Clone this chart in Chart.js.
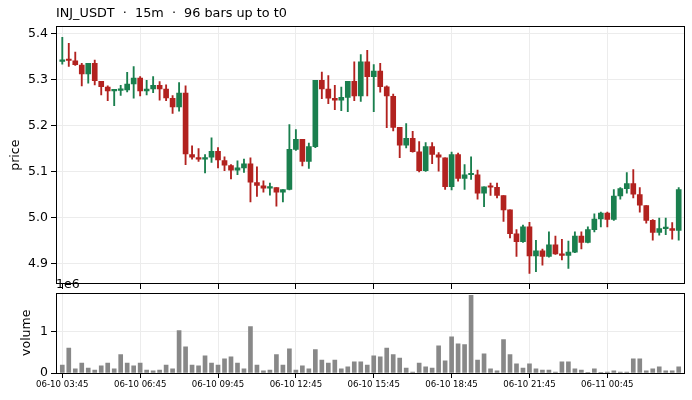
<!DOCTYPE html>
<html>
<head>
<meta charset="utf-8">
<script src="https://cdn.jsdelivr.net/npm/chart.js@4/dist/chart.umd.min.js"></script>
<style>
  html, body { margin: 0; padding: 0; background: #fff; }
  #wrap { position: relative; width: 692px; height: 400px; }
  canvas { position: absolute; left: 0; }
  #priceChart { top: 0; }
  #volumeChart { top: 270px; }
</style>
</head>
<body>
<div id="wrap">
  <canvas id="priceChart" width="692" height="290"></canvas>
  <canvas id="volumeChart" width="692" height="130"></canvas>
</div>
<script>
// 15m bars, index 0 = 06-10 03:45
const opens = [5.339, 5.342, 5.340, 5.331, 5.312, 5.335, 5.296, 5.283, 5.275, 5.276,
  5.277, 5.290, 5.303, 5.275, 5.279, 5.287, 5.279, 5.259, 5.240, 5.270,
  5.137, 5.130, 5.127, 5.131, 5.144, 5.124, 5.113, 5.103, 5.108, 5.117,
  5.076, 5.069, 5.064, 5.065, 5.055, 5.061, 5.148, 5.170, 5.122, 5.154,
  5.298, 5.279, 5.259, 5.255, 5.261, 5.296, 5.264, 5.338, 5.306, 5.318,
  5.284, 5.263, 5.196, 5.157, 5.172, 5.143, 5.102, 5.154, 5.136, 5.130,
  5.067, 5.137, 5.085, 5.093, 5.093, 5.053, 5.067, 5.066, 5.048, 5.017,
  4.965, 4.948, 4.980, 4.917, 4.928, 4.916, 4.941, 4.921, 4.918, 4.925,
  4.960, 4.946, 4.974, 4.997, 5.010, 4.996, 5.047, 5.063, 5.074, 5.050,
  5.026, 4.994, 4.968, 4.976, 4.976, 4.972];
const highs = [5.391, 5.378, 5.359, 5.335, 5.335, 5.342, 5.296, 5.286, 5.276, 5.287,
  5.315, 5.328, 5.306, 5.298, 5.306, 5.295, 5.288, 5.265, 5.293, 5.286,
  5.156, 5.150, 5.137, 5.173, 5.152, 5.132, 5.115, 5.123, 5.127, 5.130,
  5.110, 5.080, 5.075, 5.065, 5.061, 5.202, 5.191, 5.170, 5.162, 5.298,
  5.316, 5.308, 5.287, 5.283, 5.296, 5.338, 5.354, 5.363, 5.332, 5.335,
  5.286, 5.268, 5.196, 5.204, 5.187, 5.165, 5.163, 5.163, 5.141, 5.130,
  5.142, 5.140, 5.115, 5.132, 5.103, 5.067, 5.075, 5.075, 5.048, 5.017,
  4.974, 4.984, 4.990, 4.951, 4.932, 4.969, 4.960, 4.953, 4.949, 4.969,
  4.969, 4.980, 5.008, 5.012, 5.012, 5.061, 5.065, 5.098, 5.104, 5.065,
  5.026, 4.996, 4.999, 4.999, 4.989, 5.065];
const lows = [5.333, 5.328, 5.330, 5.286, 5.292, 5.288, 5.266, 5.254, 5.243, 5.265,
  5.273, 5.259, 5.264, 5.266, 5.271, 5.255, 5.254, 5.226, 5.231, 5.115,
  5.127, 5.122, 5.097, 5.120, 5.108, 5.102, 5.084, 5.093, 5.098, 5.034,
  5.046, 5.055, 5.049, 5.025, 5.034, 5.060, 5.146, 5.112, 5.107, 5.152,
  5.258, 5.247, 5.234, 5.232, 5.230, 5.254, 5.252, 5.264, 5.230, 5.272,
  5.195, 5.188, 5.130, 5.151, 5.142, 5.099, 5.100, 5.117, 5.101, 5.061,
  5.060, 5.079, 5.061, 5.083, 5.040, 5.024, 5.048, 5.043, 4.992, 4.956,
  4.916, 4.946, 4.879, 4.883, 4.897, 4.914, 4.920, 4.908, 4.890, 4.924,
  4.932, 4.945, 4.969, 4.980, 4.980, 4.994, 5.040, 5.053, 5.043, 5.012,
  4.988, 4.951, 4.962, 4.963, 4.953, 4.951];
const closes = [5.341, 5.341, 5.332, 5.312, 5.335, 5.297, 5.284, 5.275, 5.276, 5.277,
  5.290, 5.303, 5.275, 5.279, 5.287, 5.279, 5.260, 5.240, 5.270, 5.138,
  5.131, 5.127, 5.130, 5.144, 5.125, 5.114, 5.103, 5.108, 5.117, 5.077,
  5.070, 5.064, 5.066, 5.055, 5.061, 5.148, 5.170, 5.122, 5.154, 5.298,
  5.279, 5.259, 5.255, 5.261, 5.296, 5.264, 5.338, 5.306, 5.318, 5.284,
  5.264, 5.196, 5.157, 5.172, 5.143, 5.102, 5.154, 5.137, 5.131, 5.067,
  5.137, 5.085, 5.093, 5.094, 5.053, 5.067, 5.066, 5.048, 5.017, 4.965,
  4.948, 4.980, 4.917, 4.928, 4.916, 4.941, 4.921, 4.918, 4.925, 4.960,
  4.946, 4.974, 4.997, 5.010, 4.996, 5.047, 5.063, 5.074, 5.051, 5.027,
  4.994, 4.968, 4.976, 4.977, 4.972, 5.061];
const volumes = [190000, 600000, 100000, 240000, 120000, 70000, 170000, 240000, 100000, 440000,
  240000, 170000, 240000, 70000, 50000, 70000, 190000, 100000, 1020000, 630000,
  190000, 170000, 410000, 240000, 190000, 340000, 390000, 240000, 100000, 1110000,
  190000, 50000, 70000, 440000, 190000, 580000, 70000, 170000, 100000, 560000,
  310000, 240000, 310000, 100000, 150000, 270000, 270000, 190000, 410000, 390000,
  600000, 440000, 360000, 120000, 20000, 240000, 150000, 120000, 650000, 290000,
  870000, 700000, 680000, 1860000, 310000, 460000, 100000, 50000, 800000, 440000,
  220000, 120000, 220000, 100000, 70000, 70000, 20000, 270000, 270000, 100000,
  70000, 5000, 100000, 5000, 20000, 50000, 20000, 20000, 340000, 340000,
  50000, 100000, 150000, 50000, 50000, 150000];
// one label every 12 bars (3 hours)
const tickLabels = ["06-10 03:45", "06-10 06:45", "06-10 09:45", "06-10 12:45",
  "06-10 15:45", "06-10 18:45", "06-10 21:45", "06-11 00:45"];

const UP = "#1a7f4e";
const DOWN = "#b2221f";
const FONT = "DejaVu Sans";

const candleColor = (ctx) => {
  const i = ctx.dataIndex;
  return closes[i] >= opens[i] ? UP : DOWN;
};

// fixed range, ticks on exact multiples of stepSize
const stepTicks = (s) => {
  const lo = s.options.min, hi = s.options.max, st = s.options.ticks.stepSize;
  s.min = lo;
  s.max = hi;
  const out = [];
  for (let k = Math.ceil(lo / st - 1e-9); k * st <= hi + 1e-9; k++) {
    out.push({ value: Math.round(k * st * 1e6) / 1e6 });
  }
  s.ticks = out;
};

// fixed y-axis width, no extra room reserved for overhanging labels
const yFit = (s) => {
  s.width = 56;
  s.paddingTop = 0;
  s.paddingBottom = 0;
};

// draws the box around the plot area (matplotlib-like spines)
const frame = {
  id: "frame",
  afterDraw(chart) {
    const a = chart.chartArea;
    const c = chart.ctx;
    c.save();
    c.strokeStyle = "#000";
    c.lineWidth = 1;
    c.strokeRect(Math.round(a.left) + 0.5, Math.round(a.top) + 0.5,
      Math.round(a.right - a.left) - 1, Math.round(a.bottom - a.top) - 1);
    c.restore();
  }
};

const xCommon = {
  type: "linear",
  min: -0.97,
  max: 95.97,
  offset: false,
  border: { display: false },
  grid: { offset: false, color: "#ececec", lineWidth: 1, tickColor: "#000", tickLength: 5 },
  afterBuildTicks: stepTicks
};

new Chart(document.getElementById("priceChart"), {
  type: "bar",
  data: {
    datasets: [
      {
        label: "body",
        data: opens.map((o, i) => ({ x: i, y: [o, closes[i]] })),
        backgroundColor: candleColor,
        barThickness: 5,
        minBarLength: 1.5,
        grouped: false
      },
      {
        label: "wick",
        data: lows.map((l, i) => ({ x: i, y: [l, highs[i]] })),
        backgroundColor: candleColor,
        barThickness: 1.2,
        grouped: false
      }
    ]
  },
  options: {
    responsive: false,
    animation: false,
    layout: { padding: { left: 0, right: 7, top: 0, bottom: 0 } },
    plugins: {
      legend: { display: false },
      tooltip: { enabled: false },
      title: {
        display: true,
        text: "INJ_USDT  \u00b7  15m  \u00b7  96 bars up to t0",
        align: "start",
        fullSize: false,
        color: "#000",
        font: { family: FONT, size: 12.8, weight: "normal" },
        padding: { top: 6, bottom: 5 }
      }
    },
    scales: {
      x: Object.assign({}, xCommon, {
        ticks: { display: false, stepSize: 12 },
        afterFit(s) { s.height = 6; }
      }),
      y: {
        min: 4.856,
        max: 5.415,
        border: { display: false },
        grid: { color: "#ececec", lineWidth: 1, tickColor: "#000", tickLength: 5 },
        ticks: {
          stepSize: 0.1,
          color: "#000",
          padding: 3,
          font: { family: FONT, size: 12.5 },
          callback: (v) => v.toFixed(1)
        },
        title: {
          display: true,
          text: "price",
          color: "#000",
          font: { family: FONT, size: 12.5 },
          padding: { top: 8, bottom: 0 }
        },
        afterBuildTicks: stepTicks,
        afterFit: yFit
      }
    }
  },
  plugins: [frame]
});

new Chart(document.getElementById("volumeChart"), {
  type: "bar",
  data: {
    datasets: [{
      label: "volume",
      data: volumes.map((v, i) => ({ x: i, y: v })),
      backgroundColor: "#888888",
      barThickness: 4
    }]
  },
  options: {
    responsive: false,
    animation: false,
    layout: { padding: { left: 0, right: 7, top: 0, bottom: 0 } },
    plugins: {
      legend: { display: false },
      tooltip: { enabled: false },
      title: {
        display: true,
        text: "1e6",
        align: "start",
        fullSize: false,
        color: "#000",
        font: { family: FONT, size: 12.5, weight: "normal" },
        padding: { top: 7.5, bottom: 0 }
      }
    },
    scales: {
      x: Object.assign({}, xCommon, {
        ticks: {
          stepSize: 12,
          maxRotation: 0,
          autoSkip: false,
          color: "#000",
          padding: 2,
          font: { family: FONT, size: 8.6 },
          callback: (v) => tickLabels[Math.round(v / 12)]
        },
        afterFit(s) { s.height = 27; }
      }),
      y: {
        min: 0,
        max: 1930000,
        border: { display: false },
        grid: { color: "#ececec", lineWidth: 1, tickColor: "#000", tickLength: 5 },
        ticks: {
          stepSize: 1000000,
          color: "#000",
          padding: 3,
          font: { family: FONT, size: 12.5 },
          callback: (v) => String(Math.round(v / 1000000))
        },
        title: {
          display: true,
          text: "volume",
          color: "#000",
          font: { family: FONT, size: 12.5 },
          padding: { top: 19, bottom: 0 }
        },
        afterBuildTicks: stepTicks,
        afterFit: yFit
      }
    }
  },
  plugins: [frame]
});
</script>
</body>
</html>
